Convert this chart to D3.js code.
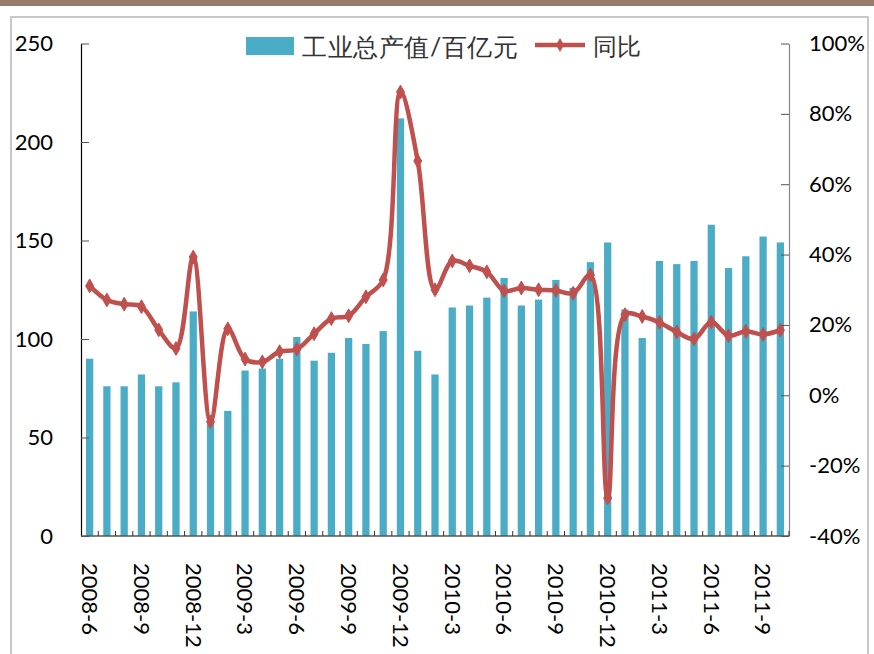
<!DOCTYPE html>
<html>
<head>
<meta charset="utf-8">
<script src="https://cdn.jsdelivr.net/npm/d3@7"></script>
<style>
  html, body { margin: 0; padding: 0; background: #fff; }
  svg { display: block; }
  text { font-family: Lato, "Noto Sans", sans-serif; }
</style>
</head>
<body>
<svg id="chart"></svg>
<script>
const width = 874;
const height = 654;

const months = [
  "2008-6","2008-7","2008-8","2008-9","2008-10","2008-11","2008-12",
  "2009-1","2009-2","2009-3","2009-4","2009-5","2009-6","2009-7","2009-8","2009-9","2009-10","2009-11","2009-12",
  "2010-1","2010-2","2010-3","2010-4","2010-5","2010-6","2010-7","2010-8","2010-9","2010-10","2010-11","2010-12",
  "2011-1","2011-2","2011-3","2011-4","2011-5","2011-6","2011-7","2011-8","2011-9","2011-10"
];

// 工业总产值/百亿元
const output = [
  90, 76, 76, 82, 76, 78, 114,
  57, 63.5, 84, 85, 90, 101, 89, 93, 100.5, 97.5, 104, 212,
  94, 82, 116, 117, 121, 131, 117, 120, 130, 126, 139, 149,
  115, 100.5, 139.6, 138, 139.6, 158, 136, 142, 152, 149
];

// 同比 (%)
const yoy = [
  31.1, 27.1, 25.9, 25.2, 18.6, 13.3, 39.3,
  -7.5, 18.9, 10.3, 9.5, 12.4, 13.1, 17.5, 21.8, 22.6, 28, 32.8, 86.2,
  66.6, 30, 38.2, 36.8, 35.1, 29.7, 30.5, 30, 29.8, 29, 34.2, -29.2,
  22.9, 22.4, 20.7, 18, 16, 20.8, 16.9, 18.2, 17.3, 18.5
];

const leftTicks = [0, 50, 100, 150, 200, 250];
const rightTicks = [-40, -20, 0, 20, 40, 60, 80, 100];

const barColor = "#4BACC6";
const lineColor = "#C0504D";

const svg = d3.select("#chart")
  .attr("width", width)
  .attr("height", height);

// frame
svg.append("rect")
  .attr("x", 0).attr("y", 0)
  .attr("width", width).attr("height", 6)
  .attr("fill", "#957D6D");

svg.append("rect")
  .attr("x", 11).attr("y", 17)
  .attr("width", 857).attr("height", 700)
  .attr("fill", "none")
  .attr("stroke", "#C8C8C8")
  .attr("stroke-width", 2);

const plotLeft = 81, plotRight = 789, plotTop = 43.5, plotBottom = 536;

const x = d3.scaleBand()
  .domain(months)
  .range([plotLeft, plotRight])
  .paddingInner(0.58)
  .paddingOuter(0.29);

const yL = d3.scaleLinear().domain([0, 250]).range([plotBottom, plotTop]);
const yR = d3.scaleLinear().domain([-40, 100]).range([plotBottom, plotTop]);

// bars
svg.append("g")
  .selectAll("rect")
  .data(output)
  .join("rect")
  .attr("x", (d, i) => x(months[i]))
  .attr("y", d => yL(d))
  .attr("width", x.bandwidth())
  .attr("height", d => yL(0) - yL(d))
  .attr("fill", barColor);

// left axis
const gL = svg.append("g")
  .attr("transform", `translate(${plotLeft},0)`)
  .call(d3.axisLeft(yL).tickValues(leftTicks).tickSizeInner(-8).tickSizeOuter(0).tickPadding(28));
gL.select(".domain").attr("stroke", "#000").attr("stroke-width", 1.2);
gL.selectAll(".tick line").attr("stroke", "#555");
gL.selectAll("text").attr("font-size", 22).attr("fill", "#000")
  .attr("font-family", "Lato, 'Noto Sans', sans-serif");

// right axis
const gR = svg.append("g")
  .attr("transform", `translate(${plotRight},0)`)
  .call(d3.axisRight(yR).tickValues(rightTicks).tickSizeInner(-8).tickSizeOuter(0).tickPadding(20)
    .tickFormat(d => d + "%"));
gR.select(".domain").attr("stroke", "#868686").attr("stroke-width", 1.2);
gR.selectAll(".tick line").attr("stroke", "#555");
gR.selectAll("text").attr("font-size", 22).attr("fill", "#000")
  .attr("font-family", "Lato, 'Noto Sans', sans-serif");

// bottom axis
svg.append("line")
  .attr("x1", plotLeft).attr("x2", plotRight)
  .attr("y1", plotBottom).attr("y2", plotBottom)
  .attr("stroke", "#555").attr("stroke-width", 1.5);

svg.append("g")
  .selectAll("line")
  .data(months)
  .join("line")
  .attr("x1", d => x(d) + x.bandwidth() / 2 + x.step() / 2)
  .attr("x2", d => x(d) + x.bandwidth() / 2 + x.step() / 2)
  .attr("y1", plotBottom)
  .attr("y2", plotBottom - 5)
  .attr("stroke", "#333")
  .attr("stroke-width", 1);

svg.append("g")
  .selectAll("text")
  .data(months.filter((d, i) => i % 3 === 0))
  .join("text")
  .attr("transform", d => `translate(${x(d) + x.bandwidth() / 2},563) rotate(90)`)
  .attr("dy", "0.35em")
  .attr("font-size", 22)
  .attr("fill", "#000")
  .text(d => d);

// line
const pts = yoy.map((v, i) => [x(months[i]) + x.bandwidth() / 2, yR(v)]);

svg.append("path")
  .datum(pts)
  .attr("d", d3.line().curve(d3.curveCatmullRom.alpha(0.5)))
  .attr("fill", "none")
  .attr("stroke", lineColor)
  .attr("stroke-width", 4.5)
  .attr("stroke-linejoin", "round");

const diamond = d3.symbol().type(d3.symbolDiamond).size(55);

svg.append("g")
  .selectAll("path")
  .data(pts)
  .join("path")
  .attr("transform", d => `translate(${d[0]},${d[1]})`)
  .attr("d", diamond)
  .attr("fill", lineColor)
  .attr("stroke", lineColor);

// legend
const legend = svg.append("g");
legend.append("rect")
  .attr("x", 246).attr("y", 37)
  .attr("width", 48).attr("height", 18)
  .attr("fill", barColor);
legend.append("text")
  .attr("x", 302).attr("y", 47)
  .attr("dy", "0.35em")
  .attr("font-family", "'Noto Sans CJK SC', sans-serif")
  .attr("font-size", 25)
  .attr("letter-spacing", 0.6)
  .attr("fill", "#333")
  .text("工业总产值/百亿元");
legend.append("line")
  .attr("x1", 535).attr("x2", 585)
  .attr("y1", 45).attr("y2", 45)
  .attr("stroke", lineColor)
  .attr("stroke-width", 4.5);
legend.append("path")
  .attr("transform", "translate(560,45)")
  .attr("d", diamond)
  .attr("fill", lineColor);
legend.append("text")
  .attr("x", 593).attr("y", 47)
  .attr("dy", "0.35em")
  .attr("font-family", "'Noto Sans CJK SC', sans-serif")
  .attr("font-size", 24)
  .attr("fill", "#333")
  .text("同比");
</script>
</body>
</html>
